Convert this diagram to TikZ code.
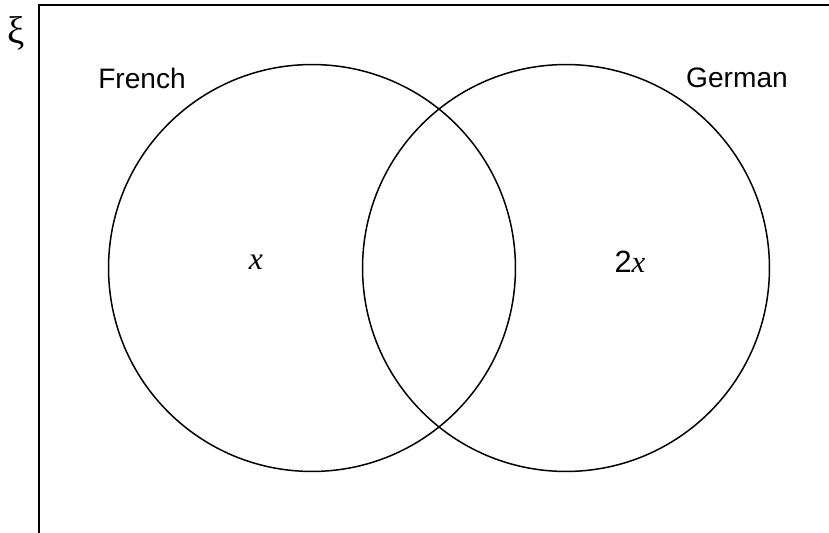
\documentclass[tikz,border=0pt]{standalone}
\usepackage{fontspec}
\setmainfont{Liberation Serif}
\newfontfamily\labelfont{Liberation Sans}
\usepackage{tikz}

\tikzset{
    setlabel/.style={font=\labelfont\fontsize{16}{18}\selectfont},
    setring/.style={line width=0.85pt},
}

\begin{document}
\begin{tikzpicture}[x=0.02cm,y=-0.02cm]
    \useasboundingbox (0,0) rectangle (829,533);
    \draw[line width=1.1pt] (829,5)--(39,5)--(39,533);
    \node (xi) at (16,33) {\fontsize{22}{24}\selectfont ξ};
    \draw[setring] (312,268) circle[radius=4.07cm];
    \draw[setring] (566,268) circle[radius=4.07cm];
    \node[setlabel] (french) at (142,78) {French};
    \node[setlabel] (german) at (737,78) {German};
    \node (onlyF) at (256,262) {\fontsize{18}{20}\selectfont\textit{x}};
    \node (onlyG) at (630,262) {\fontsize{17.5}{20}\selectfont{\labelfont 2}\textit{x}};
\end{tikzpicture}
\end{document}
